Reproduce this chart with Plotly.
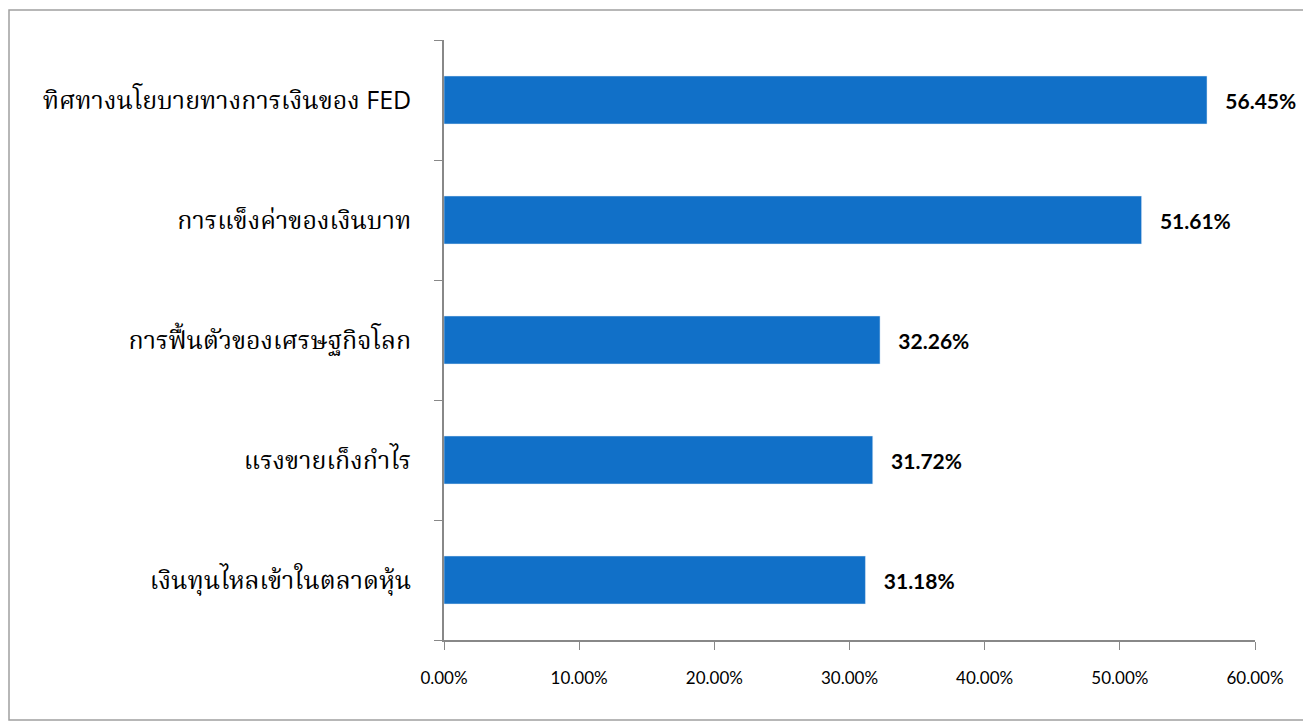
import plotly.graph_objects as go

categories = [
    "ทิศทางนโยบายทางการเงินของ FED",
    "การแข็งค่าของเงินบาท",
    "การฟื้นตัวของเศรษฐกิจโลก",
    "แรงขายเก็งกำไร",
    "เงินทุนไหลเข้าในตลาดหุ้น",
]
shares = [0.5645, 0.5161, 0.3226, 0.3172, 0.3118]
x_ticks = [0, 0.1, 0.2, 0.3, 0.4, 0.5, 0.6]

# Latin part of the labels is set in a sans face, like the original
tick_text = [
    c.replace("FED", "<span style='font-family:Open Sans'>FED</span>") for c in categories
]

# page body has an 8px margin, so the figure is a bit smaller than the window
W, H = 1303, 714
L, R, T, B = 436, 56, 32, 82

fig = go.Figure(go.Bar(
    x=shares,
    y=categories,
    orientation="h",
    marker=dict(color="#1170C8"),
    texttemplate="   %{x:.2%}",
    textposition="outside",
    textfont=dict(family="Lato, sans-serif", size=21, color="black", weight="bold"),
    cliponaxis=False,
))

# outer frame around the whole chart
pw, ph = W - L - R, H - T - B
fig.add_shape(
    type="rect", xref="paper", yref="paper",
    x0=(1 - L) / pw, x1=(1301 - L) / pw,
    y0=-(712 - T - ph) / ph, y1=1 + (T - 2) / ph,
    line=dict(color="#a0a0a0", width=1.5),
)

fig.update_layout(
    width=W, height=H,
    margin=dict(l=L, r=R, t=T, b=B),
    plot_bgcolor="white",
    paper_bgcolor="white",
    bargap=0.6,
    showlegend=False,
    font=dict(family="Noto Serif Thai, Noto Sans Thai, serif", color="black"),
    xaxis=dict(
        range=[0, 0.6],
        tickvals=x_ticks,
        tickformat=".2%",
        showgrid=False,
        zeroline=False,
        showline=True,
        linecolor="#888888",
        linewidth=1.5,
        ticks="outside",
        ticklen=8,
        tickcolor="#888888",
        tickfont=dict(family="Lato, sans-serif", size=17),
        ticklabelstandoff=14,
    ),
    yaxis=dict(
        autorange="reversed",
        tickmode="array",
        tickvals=categories,
        ticktext=tick_text,
        showgrid=False,
        showline=True,
        linecolor="#888888",
        linewidth=1.5,
        ticks="outside",
        tickson="boundaries",
        ticklen=8,
        tickcolor="#888888",
        tickfont=dict(size=25),
        ticklabelstandoff=26,
    ),
)

fig.write_html("out.html")
